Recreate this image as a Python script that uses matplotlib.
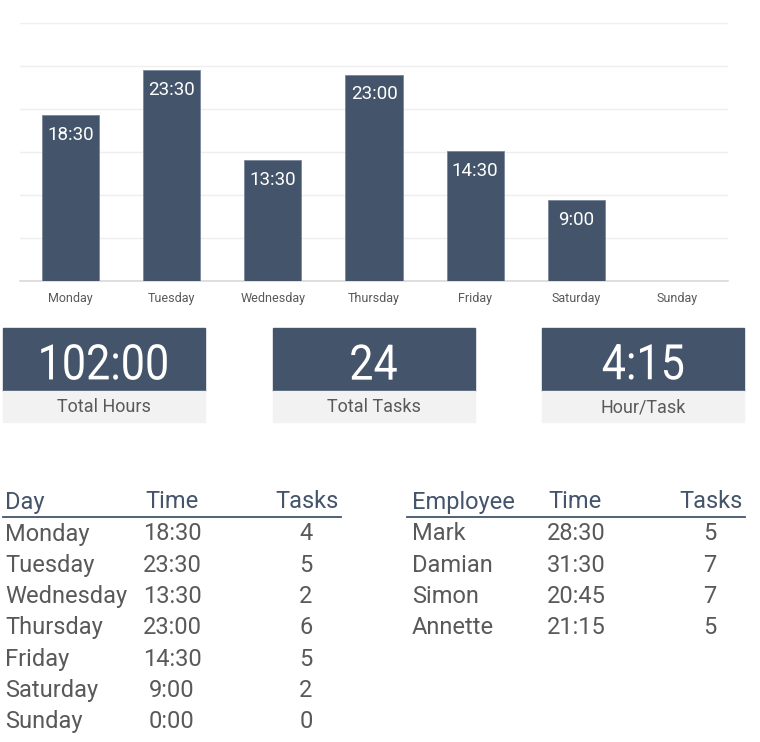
import matplotlib.pyplot as plt
from matplotlib.patches import Rectangle, PathPatch
from matplotlib.textpath import TextPath
from matplotlib.font_manager import FontProperties
from matplotlib.transforms import Affine2D

# -------------------------------
# DATA
# -------------------------------
days = ["Monday", "Tuesday", "Wednesday", "Thursday", "Friday", "Saturday", "Sunday"]
day_times = ["18:30", "23:30", "13:30", "23:00", "14:30", "9:00", "0:00"]
day_tasks = [4, 5, 2, 6, 5, 2, 0]

employees = ["Mark", "Damian", "Simon", "Annette"]
emp_times = ["28:30", "31:30", "20:45", "21:15"]
emp_tasks = [5, 7, 7, 5]


def to_hours(s):
    h, m = s.split(":")
    return int(h) + int(m) / 60


def to_hhmm(h):
    return f"{int(h)}:{int(round((h - int(h)) * 60)):02d}"


day_hours = [to_hours(t) for t in day_times]
total_hours = sum(day_hours)
total_tasks = sum(day_tasks)

# -------------------------------
# STYLE
# -------------------------------
DARK = "#44546A"
GREY_TXT = "#595959"
LIGHT = "#F2F2F2"
plt.rcParams["font.family"] = ["Roboto", "DejaVu Sans"]

W, H = 760, 742
fig = plt.figure(figsize=(W / 100, H / 100), dpi=100)

# -------------------------------
# BAR CHART
# -------------------------------
ax = fig.add_axes([20 / W, (H - 281) / H, 708 / W, (281 - 23) / H])
x = range(len(days))
bars = ax.bar(x, day_hours, width=0.565, color=DARK, edgecolor="#7a8799", linewidth=0.6, zorder=3)
ax.set_xlim(-0.5, len(days) - 0.5)
ax.set_ylim(0, 28.8)
ax.set_yticks([4.8 * i for i in range(7)])
ax.yaxis.grid(True, color="#EEEEEE", linewidth=1, zorder=0)
ax.set_yticklabels([])
ax.tick_params(axis="y", length=0)
ax.tick_params(axis="x", length=0, pad=8, labelsize=9, labelcolor=GREY_TXT)
ax.set_xticks(list(x))
ax.set_xticklabels(days)
for s in ["top", "left", "right"]:
    ax.spines[s].set_visible(False)
ax.spines["bottom"].set_color("#D9D9D9")
ax.spines["bottom"].set_linewidth(1.2)
ax.set_facecolor("none")

for b, t, h in zip(bars, day_times, day_hours):
    if h > 0:
        ax.annotate(t, (b.get_x() + b.get_width() / 2, h), xytext=(0, -14),
                    textcoords="offset points", ha="center", va="center",
                    color="white", fontsize=13.5)

# -------------------------------
# KPI BOXES + TABLES (pixel overlay)
# -------------------------------
ov = fig.add_axes([0, 0, 1, 1])
ov.set_xlim(0, W)
ov.set_ylim(H, 0)
ov.axis("off")
ov.patch.set_alpha(0)

kpis = [(to_hhmm(total_hours), "Total Hours"),
        (str(total_tasks), "Total Tasks"),
        (to_hhmm(total_hours / total_tasks), "Hour/Task")]
box_x = [3, 273, 542]
big_font = FontProperties(family="Roboto")
for bx, (val, lab) in zip(box_x, kpis):
    ov.add_patch(Rectangle((bx, 328), 202, 63, color=DARK))
    ov.add_patch(Rectangle((bx, 391), 202, 31, color=LIGHT))
    # condensed big number: text path squeezed horizontally
    tp = TextPath((0, 0), val, size=49, prop=big_font)
    ext = tp.get_extents()
    sx = 0.88
    tr = (Affine2D().translate(-(ext.x0 + ext.x1) / 2, -(ext.y0 + ext.y1) / 2)
          .scale(sx, -1).translate(bx + 101, 362))
    ov.add_patch(PathPatch(tr.transform_path(tp), color="white", lw=0))
    ov.text(bx + 101, 407, lab, ha="center", va="center", color=GREY_TXT, fontsize=13)

# tables
fs = 17
row_y = [534 + 31.3 * i for i in range(len(days))]
hdr_y = 502

# left table
ov.text(5, hdr_y, "Day", ha="left", va="center", fontsize=fs, color=DARK)
ov.text(145, hdr_y, "Time", ha="left", va="center", fontsize=fs, color=DARK)
ov.text(339, hdr_y, "Tasks", ha="right", va="center", fontsize=fs, color=DARK)
ov.plot([3, 341], [517, 517], color=DARK, lw=1.3)
for y, d, t, n in zip(row_y, days, day_times, day_tasks):
    ov.text(5, y, d, ha="left", va="center", fontsize=fs, color=GREY_TXT)
    ov.text(172, y, t, ha="center", va="center", fontsize=fs, color=GREY_TXT)
    ov.text(306, y, str(n), ha="center", va="center", fontsize=fs, color=GREY_TXT)

# right table
ov.text(412, hdr_y, "Employee", ha="left", va="center", fontsize=fs, color=DARK)
ov.text(548, hdr_y, "Time", ha="left", va="center", fontsize=fs, color=DARK)
ov.text(743, hdr_y, "Tasks", ha="right", va="center", fontsize=fs, color=DARK)
ov.plot([407, 745], [517, 517], color=DARK, lw=1.3)
for y, e, t, n in zip(row_y, employees, emp_times, emp_tasks):
    ov.text(412, y, e, ha="left", va="center", fontsize=fs, color=GREY_TXT)
    ov.text(576, y, t, ha="center", va="center", fontsize=fs, color=GREY_TXT)
    ov.text(710, y, str(n), ha="center", va="center", fontsize=fs, color=GREY_TXT)

fig.savefig("out.png", dpi=100)
